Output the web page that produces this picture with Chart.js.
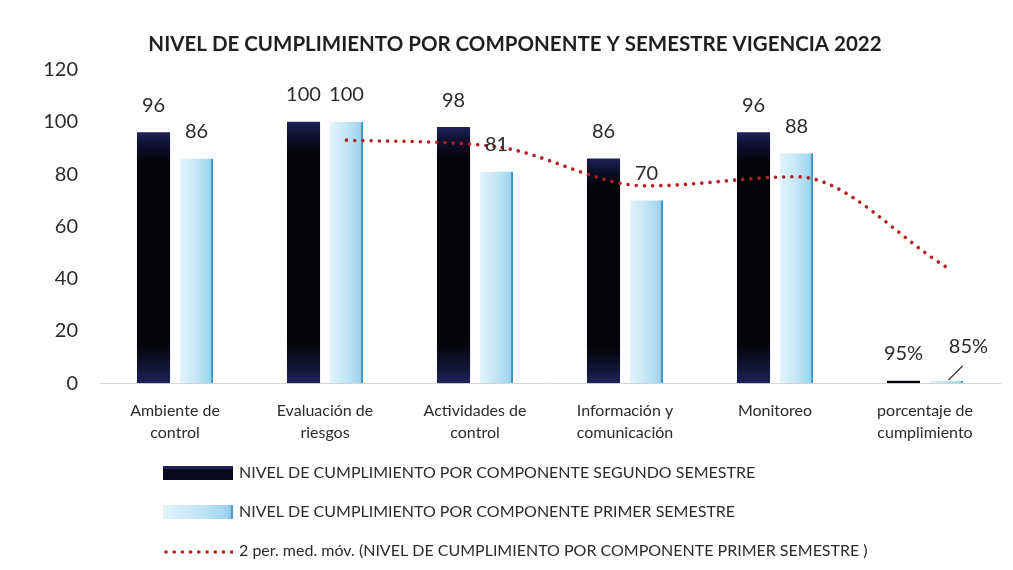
<!DOCTYPE html>
<html>
<head>
<meta charset="utf-8">
<script src="https://cdn.jsdelivr.net/npm/chart.js@4/dist/chart.umd.min.js"></script>
<style>
  html, body { margin: 0; padding: 0; background: #ffffff; }
  #wrap { position: relative; width: 1013px; height: 570px; }
</style>
</head>
<body>
<div id="wrap"><canvas id="c"></canvas></div>
<script>
// ---- data ----
const categories = [
  ['Ambiente de', 'control'],
  ['Evaluación de', 'riesgos'],
  ['Actividades de', 'control'],
  ['Información y', 'comunicación'],
  ['Monitoreo'],
  ['porcentaje de', 'cumplimiento']
];
const segundoSemestre = [96, 100, 98, 86, 96, 0.95];
const primerSemestre  = [86, 100, 81, 70, 88, 0.85];
const segundoLabels = ['96', '100', '98', '86', '96', '95%'];
const primerLabels  = ['86', '100', '81', '70', '88', '85%'];
// 2-period moving average trend line (first point has no value)
const mediaMovil = [null, 93, 90.5, 75.5, 79, 44.4];
const yTickMax = 120;
const yTickStep = 20;

const seriesNames = [
  'NIVEL DE CUMPLIMIENTO POR COMPONENTE SEGUNDO SEMESTRE',
  'NIVEL DE CUMPLIMIENTO POR COMPONENTE PRIMER SEMESTRE',
  '2 per. med. móv. (NIVEL DE CUMPLIMIENTO POR COMPONENTE PRIMER SEMESTRE )'
];
const chartTitle = 'NIVEL DE CUMPLIMIENTO POR COMPONENTE Y SEMESTRE VIGENCIA 2022';

// ---- styling ----
const FONT = "Lato, 'Liberation Sans', sans-serif";
const CAT_PCT = 0.573;
const BAR_PCT = 0.77;
const TEXT = '#2b2b2b';
const LINE_COLOR = '#b3201f';

function darkStops(g) {
  g.addColorStop(0, '#1f2259');
  g.addColorStop(0.05, '#0f1130');
  g.addColorStop(0.12, '#040408');
  g.addColorStop(0.84, '#040408');
  g.addColorStop(0.93, '#111332');
  g.addColorStop(1, '#1f235a');
  return g;
}
function lightStops(g) {
  g.addColorStop(0, '#e2f3fb');
  g.addColorStop(0.5, '#c3e6f6');
  g.addColorStop(0.9, '#a0d4ee');
  g.addColorStop(1, '#86c5e6');
  return g;
}
function darkFill(c) {
  const ch = c.chart, ys = ch.scales && ch.scales.y;
  if (c.type !== 'data' || !ys || !ys.height) return '#0c0e24';
  const top = ys.getPixelForValue(c.raw), bottom = ys.getPixelForValue(0);
  return darkStops(ch.ctx.createLinearGradient(0, top, 0, Math.max(bottom, top + 1)));
}
function lightFill(c) {
  const ch = c.chart, xs = ch.scales && ch.scales.x;
  if (c.type !== 'data' || !xs || !xs.width) return '#bfe3f5';
  const cw = xs.width / categories.length;
  const cx = xs.getPixelForValue(c.dataIndex) + cw * CAT_PCT / 4;
  const hw = cw * CAT_PCT / 4 * BAR_PCT;
  return lightStops(ch.ctx.createLinearGradient(cx - hw, 0, cx + hw, 0));
}

// legend swatches (decoration only)
function swatch(kind) {
  const cv = document.createElement('canvas');
  cv.width = 70; cv.height = 14;
  const x = cv.getContext('2d');
  if (kind === 'dark') {
    x.fillStyle = '#08091a';
    x.fillRect(0, 0, 70, 14);
    x.fillStyle = '#1d2156';
    x.fillRect(0, 0, 70, 3);
  } else if (kind === 'light') {
    x.fillStyle = lightStops(x.createLinearGradient(0, 0, 70, 0));
    x.fillRect(0, 0, 70, 14);
    x.fillStyle = '#4a9ccf';
    x.fillRect(68, 0, 2, 14);
  } else {
    x.strokeStyle = LINE_COLOR;
    x.lineWidth = 3.6;
    x.lineCap = 'round';
    x.setLineDash([0.01, 8.2]);
    x.beginPath(); x.moveTo(3, 8); x.lineTo(69, 8); x.stroke();
  }
  return cv;
}

// moves the trend line points onto the centre of the first-semester bars
const trendAlign = {
  id: 'trendAlign',
  afterDatasetUpdate(chart, args) {
    if (args.index !== 2) return;
    const xs = chart.scales.x;
    const off = xs.width / categories.length * CAT_PCT / 4;
    const meta = args.meta;
    meta.data.forEach(p => {
      p.x += off;
      if (p.cp1x !== undefined) p.cp1x += off;
      if (p.cp2x !== undefined) p.cp2x += off;
    });
    if (meta.dataset) { meta.dataset._pointsUpdated = false; meta.dataset._path = undefined; }
  }
};

const valueLabels = {
  id: 'valueLabels',
  afterDatasetsDraw(chart) {
    const ctx = chart.ctx;
    const sets = [segundoLabels, primerLabels];
    ctx.save();
    ctx.font = "20px " + FONT;
    ctx.fillStyle = TEXT;
    ctx.textAlign = 'center';
    ctx.textBaseline = 'middle';
    sets.forEach((labels, di) => {
      const meta = chart.getDatasetMeta(di);
      meta.data.forEach((el, i) => {
        let x = el.x, y = el.y - 27;
        if (di === 1 && i === labels.length - 1) {
          ctx.save();
          ctx.strokeStyle = '#333';
          ctx.lineWidth = 1.2;
          ctx.beginPath();
          ctx.moveTo(el.x + 2, el.y - 1);
          ctx.lineTo(el.x + 16, el.y - 15);
          ctx.stroke();
          ctx.restore();
          x += 22; y -= 7;
        }
        ctx.fillText(labels[i], x, y);
      });
    });
    ctx.restore();
  }
};

const legendTweak = {
  id: 'legendTweak',
  beforeLayout(chart) {
    const lg = chart.legend;
    if (lg && !lg.__patched) {
      const orig = lg.fit;
      lg.fit = function () { orig.call(this); this.height -= 17; };
      lg.__patched = true;
    }
  },
  afterLayout(chart) {
    const lg = chart.legend;
    if (lg) {
      const w = lg.right - lg.left;
      lg.left = 142; lg.right = lg.left + w;
      lg.top = 442; lg.bottom = chart.height; lg.height = lg.bottom - lg.top;
    }
  }
};

new Chart(document.getElementById('c'), {
  type: 'bar',
  data: {
    labels: categories,
    datasets: [
      {
        type: 'bar',
        label: seriesNames[0],
        data: segundoSemestre,
        backgroundColor: darkFill,
        borderWidth: 0,
        pointStyle: swatch('dark'),
        categoryPercentage: CAT_PCT,
        barPercentage: BAR_PCT,
        order: 2
      },
      {
        type: 'bar',
        label: seriesNames[1],
        data: primerSemestre,
        backgroundColor: lightFill,
        borderColor: '#4096c8',
        borderWidth: { top: 0, right: 2, bottom: 0, left: 0 },
        borderSkipped: false,
        pointStyle: swatch('light'),
        categoryPercentage: CAT_PCT,
        barPercentage: BAR_PCT,
        order: 2
      },
      {
        type: 'line',
        label: seriesNames[2],
        data: mediaMovil,
        borderColor: LINE_COLOR,
        backgroundColor: LINE_COLOR,
        borderWidth: 3.6,
        borderDash: [0.01, 8.2],
        borderCapStyle: 'round',
        pointStyle: swatch('line'),
        pointRadius: 0,
        cubicInterpolationMode: 'monotone',
        fill: false,
        order: 1
      }
    ]
  },
  options: {
    responsive: true,
    maintainAspectRatio: false,
    animation: false,
    layout: { padding: { left: 30, right: 13, top: 0, bottom: 0 } },
    scales: {
      x: {
        type: 'category',
        offset: true,
        grid: { display: false, drawTicks: false },
        border: { display: true, color: '#d4d4d4', width: 1 },
        ticks: { color: TEXT, font: { family: FONT, size: 16, lineHeight: 1.4 }, padding: 16, maxRotation: 0, autoSkip: false }
      },
      y: {
        min: 0,
        max: yTickMax,
        grid: { display: false, drawTicks: false },
        border: { display: false },
        ticks: { stepSize: yTickStep, color: TEXT, font: { family: FONT, size: 20 }, padding: 22 },
        afterFit(scale) { scale.width = 70; }
      }
    },
    plugins: {
      title: {
        display: true,
        text: chartTitle,
        color: '#1f1f1f',
        font: { family: FONT, size: 20.5, weight: 'bold' },
        padding: { top: 32, bottom: 13 }
      },
      legend: {
        display: true,
        position: 'bottom',
        align: 'start',
        labels: {
          color: TEXT,
          font: { family: FONT, size: 16 },
          usePointStyle: true,
          pointStyleWidth: 66,
          boxWidth: 66,
          boxHeight: 14,
          padding: 23,
          sort: (a, b) => a.datasetIndex - b.datasetIndex
        }
      },
      tooltip: { enabled: false }
    }
  },
  plugins: [trendAlign, valueLabels, legendTweak]
});
</script>
</body>
</html>
